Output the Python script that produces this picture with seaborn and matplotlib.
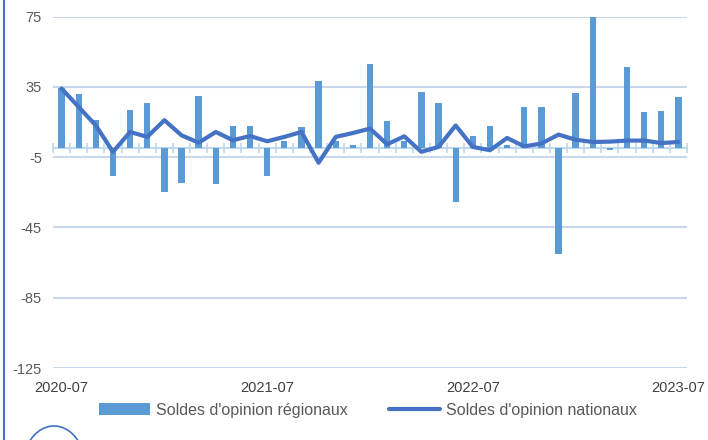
import numpy as np
import pandas as pd
import seaborn as sns
import matplotlib.pyplot as plt
from matplotlib.patches import Arc
from matplotlib.lines import Line2D
from matplotlib.patches import Patch

### Data
months = pd.date_range("2020-07-01", "2023-07-01", freq="MS").strftime("%Y-%m").tolist()

regional = [34.5, 31, 16, -15.5, 22, 25.5, -25, -20, 30, -20.5, 12.5,
            12.5, -16, 4, 12, 38.5, 4, 2, 48, 15.5, 4, 32, 26, -30.5,
            7, 12.5, 2, 23.5, 23.5, -60, 31.5, 75, -1, 46, 20.5, 21.5, 29]

national = [34, 23.5, 13, -2, 9.3, 6.5, 16, 7.4, 3.2, 9.3, 4.6,
            7, 4, 6.5, 9.3, -8.2, 6.5, 8.7, 11.2, 2.3, 6.8, -2, 0.8, 13,
            0.8, -1.1, 5.9, 1.1, 2.7, 7.8, 4.9, 3.6, 3.8, 4.4, 4.4, 3, 3.6]

yticks = [75, 35, -5, -45, -85, -125]

bar_color = "#5B9BD5"
line_color = "#4472C4"
grid_color = "#C9D6EC"
text_color = "#595959"

df = pd.DataFrame({"month": months, "regional": regional,
                   "national": national, "pos": np.arange(len(months))})

sns.set_style("white")
plt.rcParams["font.family"] = ["Liberation Sans", "DejaVu Sans"]

fig = plt.figure(figsize=(7.08, 4.4), dpi=100)
ax = fig.add_axes([53 / 708, 1 - 368 / 440, 634 / 708, (368 - 16.5) / 440])

sns.barplot(data=df, x="month", y="regional", color=bar_color, width=0.37,
            saturation=1, linewidth=0, ax=ax, zorder=2)
sns.lineplot(data=df, x="pos", y="national", color=line_color, linewidth=3,
             ax=ax, zorder=3)

ax.set_ylim(-125, 75)
ax.set_xlim(-0.5, len(months) - 0.5)
ax.set_yticks(yticks)
ax.set_yticklabels([str(v) for v in yticks], fontsize=10.5, color=text_color)
ax.yaxis.grid(True, color=grid_color, linewidth=1.5, zorder=0)
ax.set_axisbelow(True)

lab_idx = list(range(0, len(months), 12))
ax.set_xticks(lab_idx)
ax.set_xticklabels([months[i] for i in lab_idx], fontsize=10.5, color="#404040")
ax.tick_params(axis="both", length=0, pad=8)
ax.tick_params(axis="x", pad=9)
ax.set_xlabel("")
ax.set_ylabel("")
for s in ax.spines.values():
    s.set_visible(False)

# category axis drawn at zero
zero_pos = (0 - (-125)) / 200
sec = ax.secondary_xaxis(zero_pos)
sec.set_xticks(np.arange(len(months) + 1) - 0.5)
sec.set_xticklabels([])
sec.tick_params(direction="inout", length=7, width=1.2, color="#BDD7EE")
for side in ["bottom", "top"]:
    sec.spines[side].set_color("#BDD7EE")
    sec.spines[side].set_linewidth(1.5)

# legend
handles = [Patch(color=bar_color, linewidth=0), Line2D([0], [0], color=line_color, linewidth=3)]
fig.legend(handles, ["Soldes d'opinion régionaux", "Soldes d'opinion nationaux"],
           loc="center", bbox_to_anchor=(0.52, 0.068), ncol=2, frameon=False,
           fontsize=11.5, handlelength=3.2, columnspacing=2.6, handletextpad=0.35,
           labelcolor=text_color)

# left border and partial logo
fig.add_artist(Line2D([4 / 708, 4 / 708], [0, 1], color=line_color, linewidth=1.5,
                      transform=fig.transFigure))
arc = Arc((54, -26), 62, 80, theta1=35, theta2=160, color=line_color,
          linewidth=1.2, transform=None)
fig.add_artist(arc)

fig.savefig("out.png", dpi=100)
